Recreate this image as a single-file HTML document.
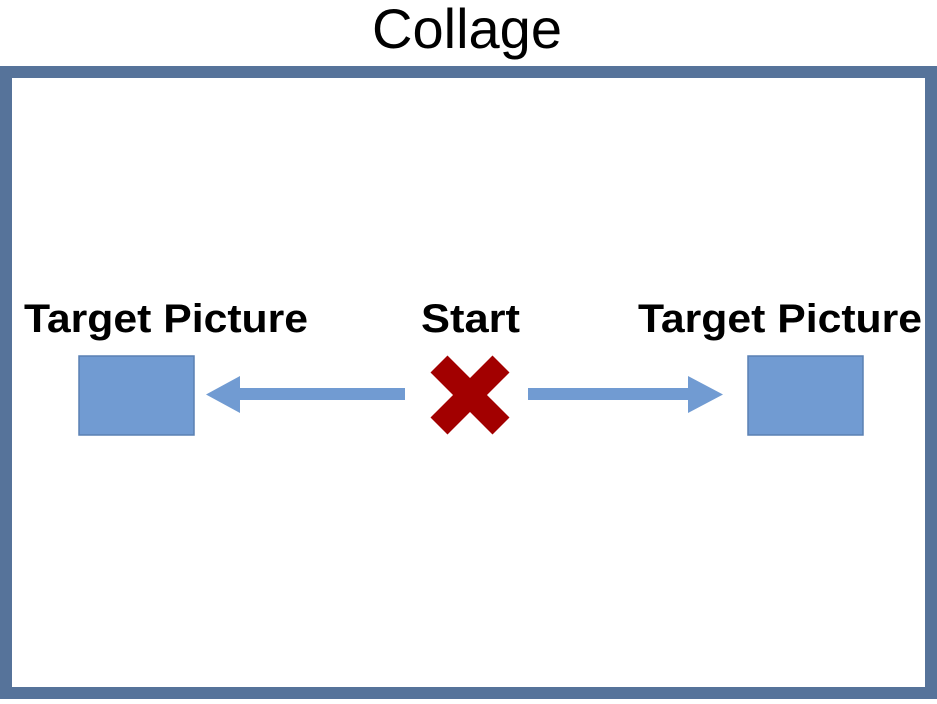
<!DOCTYPE html>
<html><head><style>html,body{margin:0;padding:0;background:#fff}</style></head>
<body>
<svg width="937" height="699" xmlns="http://www.w3.org/2000/svg">
<rect x="0" y="0" width="937" height="699" fill="#fff"/>
<text x="467" y="48" text-anchor="middle" font-family="Liberation Sans, sans-serif" font-size="56" textLength="190" lengthAdjust="spacingAndGlyphs">Collage</text>
<rect x="6" y="72" width="925" height="621" fill="none" stroke="#56739a" stroke-width="12"/>
<g font-family="Liberation Sans, sans-serif" font-weight="bold" font-size="40">
<text x="24" y="332" textLength="284" lengthAdjust="spacingAndGlyphs">Target Picture</text>
<text x="421" y="332" textLength="99" lengthAdjust="spacingAndGlyphs">Start</text>
<text x="638" y="332" textLength="284" lengthAdjust="spacingAndGlyphs">Target Picture</text>
</g>
<rect x="79" y="356" width="115" height="79" fill="#719bd2" stroke="#5a80b3" stroke-width="1.5"/>
<rect x="748" y="356" width="115" height="79" fill="#719bd2" stroke="#5a80b3" stroke-width="1.5"/>
<polygon points="405,388 240,388 240,376 206,394.5 240,413 240,400 405,400" fill="#719bd2"/>
<polygon points="528,388 688,388 688,376 723,394.5 688,413 688,400 528,400" fill="#719bd2"/>
<g stroke="#a20000" stroke-width="24">
<line x1="439" y1="364" x2="501" y2="426"/>
<line x1="501" y1="364" x2="439" y2="426"/>
</g>
</svg>
</body></html>
